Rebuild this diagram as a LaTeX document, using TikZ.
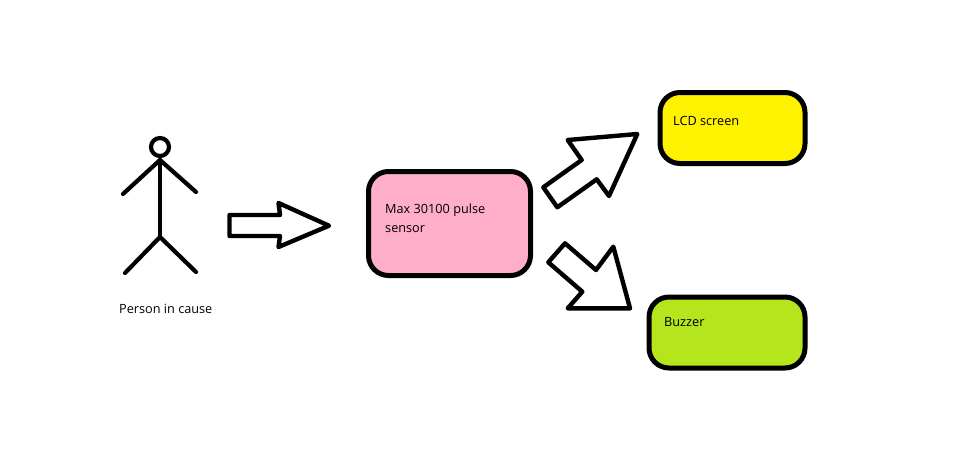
\documentclass[tikz,border=0pt]{standalone}
\usepackage{fontspec}
\setmainfont{Open Sans}
\usepackage{tikz}
\definecolor{pinkbox}{HTML}{FFAEC9}
\definecolor{yellowbox}{HTML}{FFF200}
\definecolor{greenbox}{HTML}{B5E61D}
\tikzstyle{box}   = [rectangle, rounded corners=20pt, draw=black, line width=5pt, inner sep=0pt]
\tikzstyle{label} = [anchor=north west, align=left, inner sep=0pt, font=\fontsize{12.7}{18.5}\selectfont]
\tikzstyle{bigarrow} = [draw=black, fill=white, line width=4.4pt, line join=round]
\tikzstyle{stick} = [draw=black, line width=4.2pt, line cap=round]

\begin{document}
\begin{tikzpicture}[x=1pt, y=-1pt]
      \useasboundingbox (0,0) rectangle (968,455);

      \node (sensor) [box, fill=pinkbox,   minimum width=162pt, minimum height=104pt] at (449.5,223.5) {};
      \node (lcd)    [box, fill=yellowbox, minimum width=145pt, minimum height=71pt]  at (732.5,128) {};
      \node (buzzer) [box, fill=greenbox,  minimum width=156pt, minimum height=71pt]  at (727,332.5) {};

      \node (sensortext) [label] at (385,204) {Max 30100 pulse\\sensor};
      \node (lcdtext)    [label] at (673,116) {LCD screen};
      \node (buzzertext) [label] at (664,317) {Buzzer};
      \node (persontext) [label] at (119,304) {Person in cause};

      \node (head) [circle, draw=black, line width=4.2pt, minimum size=18pt, inner sep=0pt] at (160,147) {};
      \coordinate (neck)  at (160,160);
      \coordinate (hip)   at (160,237);
      \coordinate (handL) at (123,194);
      \coordinate (handR) at (196,192);
      \coordinate (footL) at (125,273);
      \coordinate (footR) at (196,272);

      \draw [stick] (neck) -- (hip);
      \draw [stick] (handL) -- (neck) -- (handR);
      \draw [stick] (footL) -- (hip) -- (footR);

      \draw [bigarrow] (229.5,215) -- (280,215) -- (278.5,203) -- (329,225.7) -- (278.5,247) -- (280,236) -- (229.5,236) -- cycle;
      \draw [bigarrow] (543.3,187.3) -- (581.7,160) -- (567.7,140) -- (637.3,134) -- (609,196) -- (596.7,179.3) -- (557.3,207.3) -- cycle;
      \draw [bigarrow] (548.3,262.3) -- (565,243.3) -- (596,270) -- (613.3,246.7) -- (630,308.3) -- (567.7,308.3) -- (582.3,291.7) -- cycle;
\end{tikzpicture}
\end{document}
